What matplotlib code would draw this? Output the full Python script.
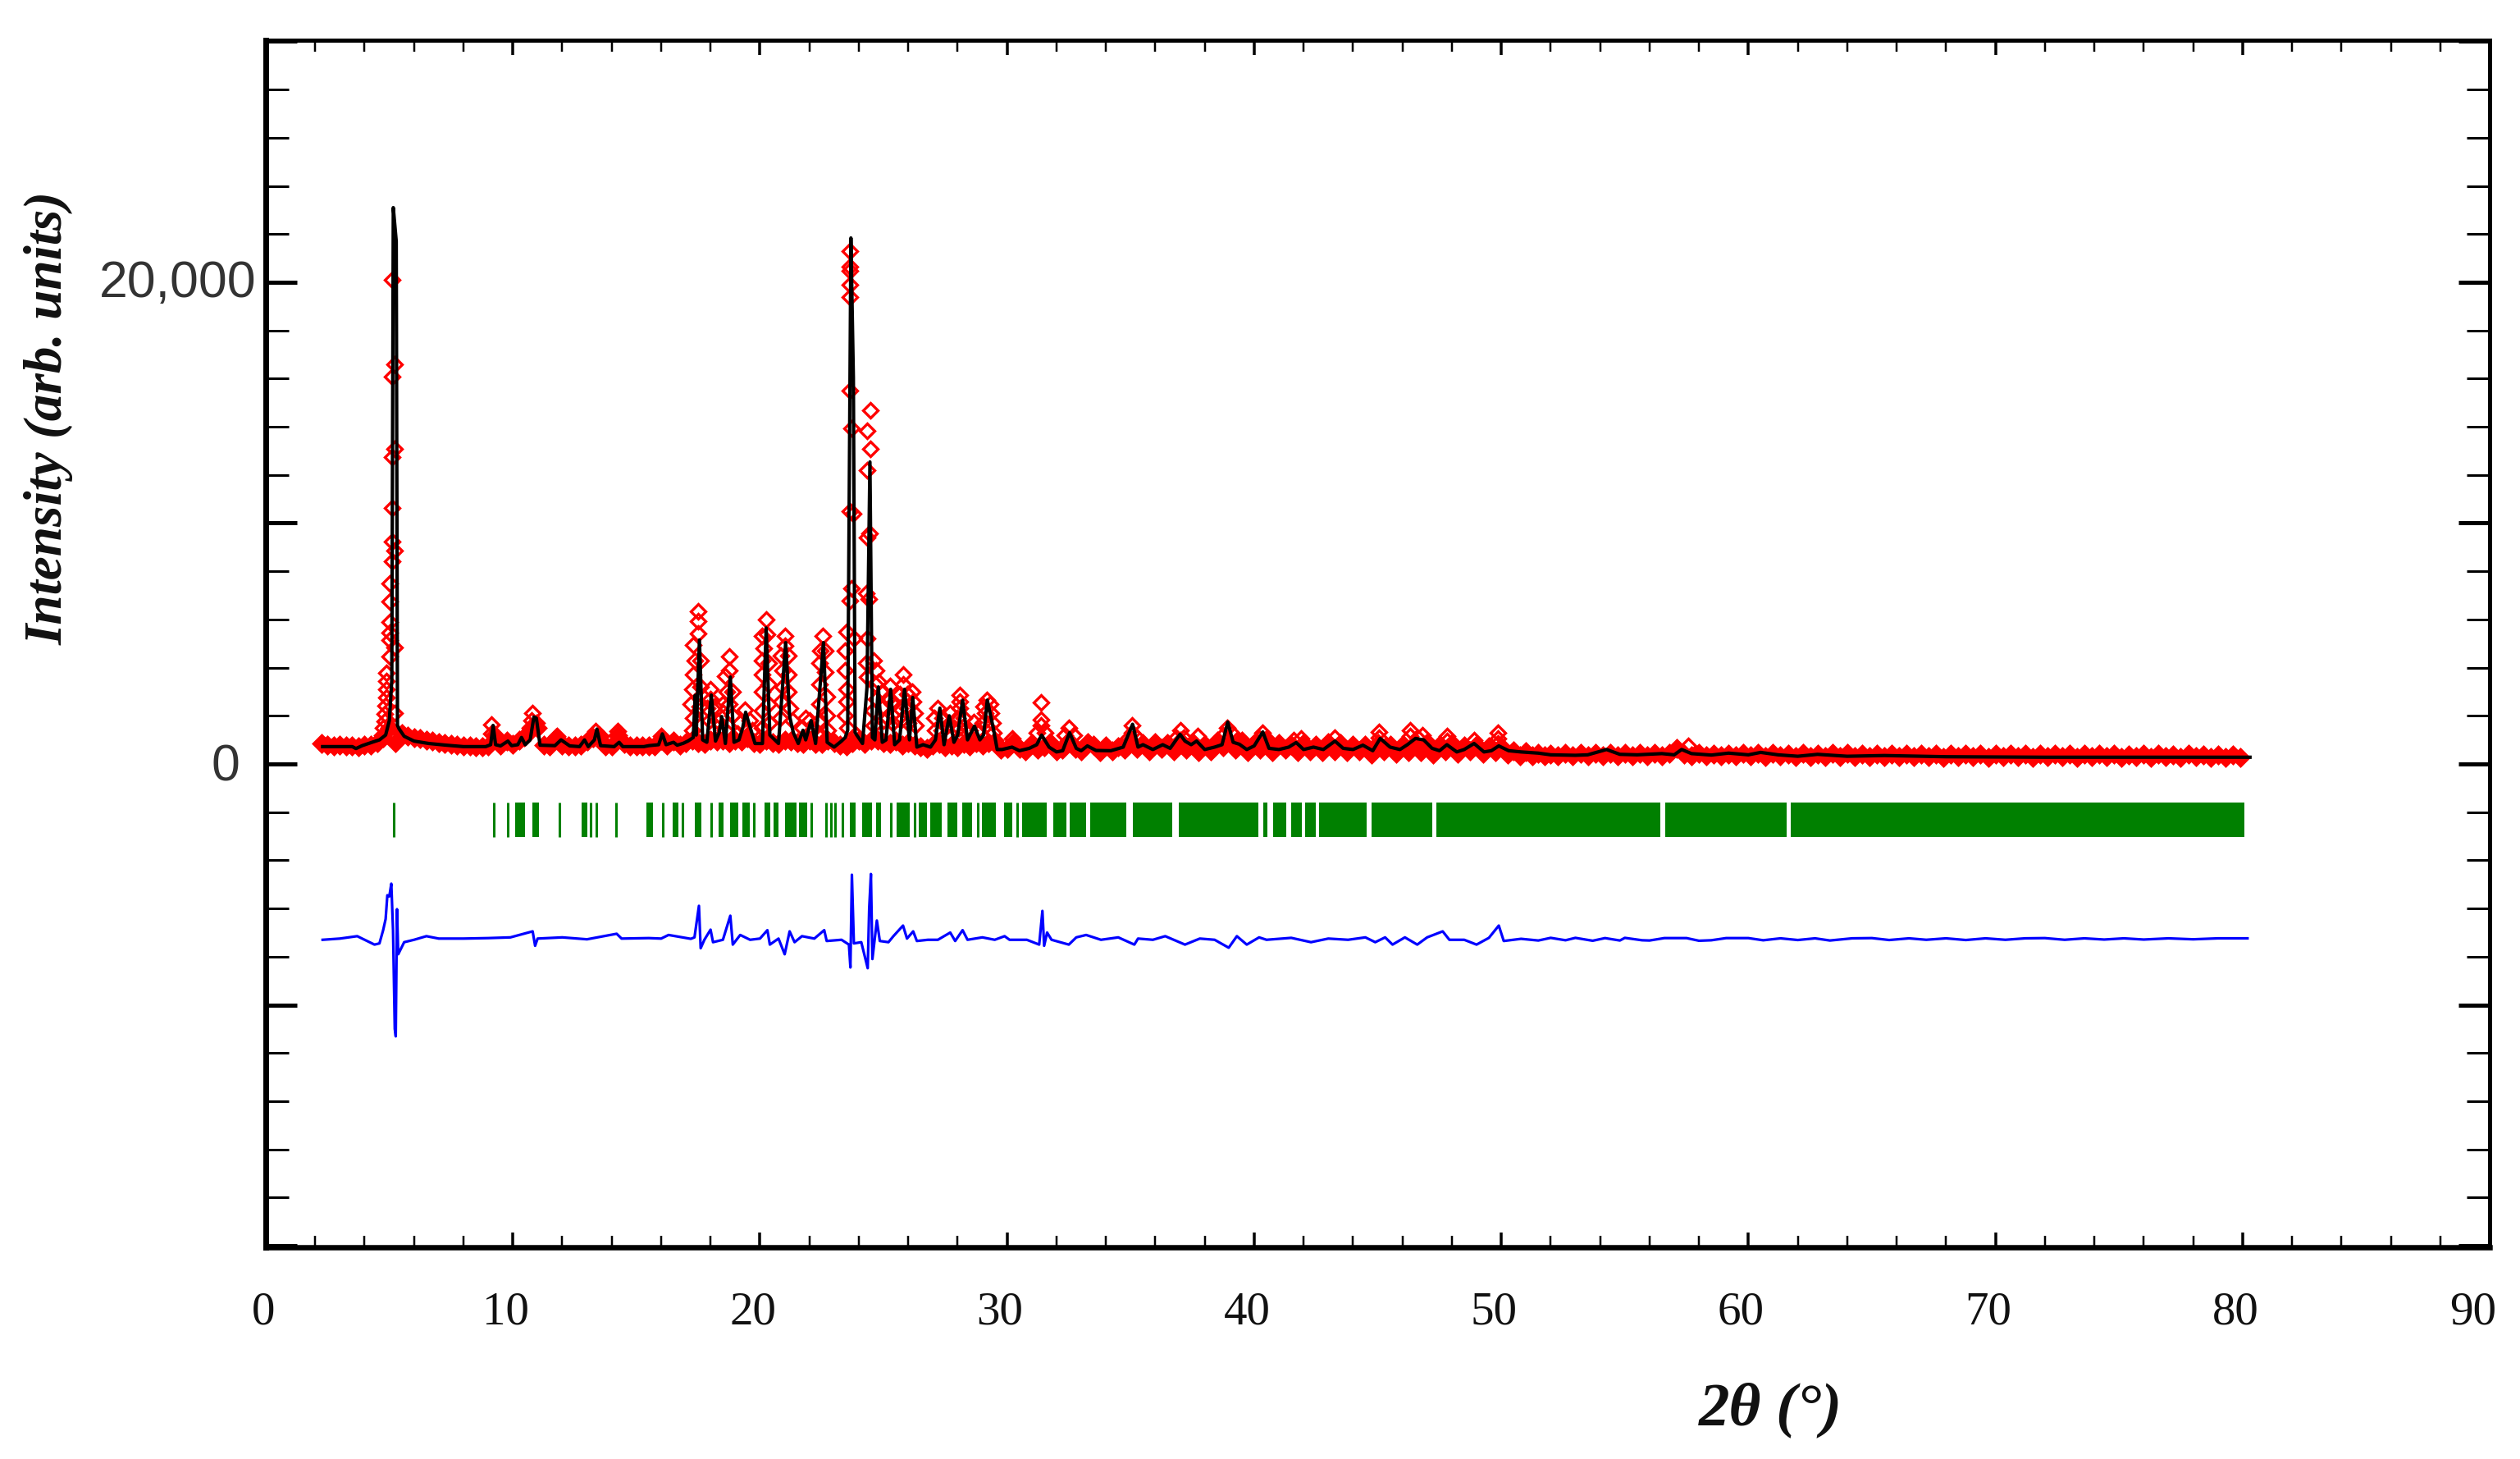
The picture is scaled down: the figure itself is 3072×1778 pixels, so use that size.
import matplotlib
matplotlib.use("Agg")
import matplotlib.pyplot as plt
from matplotlib.transforms import ScaledTranslation

# --- calculated profile (black) ---
calc_x = [2.3, 3.5, 3.65, 3.9, 4.3, 4.6, 4.85, 5.0, 5.1, 5.16,
          5.28, 5.33, 5.4, 5.6, 6.0, 6.6, 7.3, 8.0, 8.9, 9.1,
          9.2, 9.3, 9.5, 9.8, 9.95, 10.2, 10.35, 10.5, 10.7, 10.85,
          10.95, 11.1, 11.7, 11.95, 12.3, 12.7, 12.9, 13.05, 13.3, 13.4,
          13.55, 14.1, 14.3, 14.45, 15.3, 15.5, 15.9, 16.05, 16.2, 16.5,
          16.65, 16.9, 17.1, 17.3, 17.38, 17.42, 17.55, 17.68, 17.85, 18.03,
          18.2, 18.35, 18.45, 18.6, 18.8, 18.95, 19.15, 19.3, 19.42, 19.55,
          19.8, 20.1, 20.25, 20.4, 20.6, 20.75, 21.04, 21.2, 21.35, 21.55,
          21.74, 21.85, 22.07, 22.25, 22.57, 22.72, 23.0, 23.3, 23.45, 23.55,
          23.68, 23.78, 23.85, 24.15, 24.33, 24.45, 24.55, 24.65, 24.79, 24.95,
          25.1, 25.29, 25.45, 25.65, 25.85, 26.05, 26.18, 26.35, 26.6, 26.9,
          27.1, 27.28, 27.45, 27.66, 27.85, 28.0, 28.2, 28.4, 28.68, 28.9,
          29.05, 29.2, 29.44, 29.6, 29.8, 30.2, 30.5, 30.9, 31.2, 31.4,
          31.7, 32.0, 32.25, 32.53, 32.8, 33.0, 33.25, 33.6, 34.2, 34.7,
          35.08, 35.3, 35.5, 35.9, 36.3, 36.6, 37.0, 37.2, 37.45, 37.67,
          38.0, 38.4, 38.7, 38.93, 39.15, 39.4, 39.7, 40.0, 40.35, 40.6,
          41.0, 41.4, 41.7, 42.0, 42.4, 42.8, 43.27, 43.6, 44.0, 44.4,
          44.8, 45.1, 45.5, 45.9, 46.2, 46.53, 46.86, 47.2, 47.5, 47.8,
          48.2, 48.5, 48.9, 49.3, 49.6, 49.9, 50.3, 50.8, 51.5, 52.0,
          53.0, 53.5, 54.26, 54.8, 55.5, 56.5, 57.0, 57.3, 57.7, 58.5,
          59.2, 60.0, 60.5, 61.2, 62.0, 62.8, 64.0, 65.5, 68.0, 72.0,
          76.0, 80.3]
calc_y = [720, 720, 640, 760, 900, 1000, 1200, 1800, 3500, 23100,
          21700, 1600, 1450, 1150, 950, 850, 780, 720, 720, 800,
          1600, 800, 750, 950, 760, 800, 1100, 800, 1000, 1950,
          1900, 780, 760, 1000, 750, 720, 1000, 720, 1000, 1450,
          760, 720, 900, 720, 720, 760, 800, 1250, 800, 900,
          780, 860, 960, 1100, 2850, 1200, 5150, 1000, 900, 2860,
          950, 1300, 1970, 850, 3610, 900, 1000, 1500, 2150, 1700,
          850, 850, 5650, 1200, 1000, 850, 5040, 1980, 1300, 850,
          1400, 1000, 1800, 850, 5040, 900, 700, 950, 1100, 1400,
          21840, 16050, 1300, 850, 3170, 12540, 1100, 1000, 3200, 900,
          1000, 3100, 800, 1000, 3100, 1000, 2760, 700, 800, 700,
          1000, 2320, 800, 2000, 900, 1200, 2650, 1000, 1570, 1000,
          1200, 2650, 1500, 600, 600, 700, 550, 650, 800, 1200,
          700, 500, 550, 1300, 650, 550, 750, 560, 550, 700,
          1650, 700, 800, 600, 800, 650, 1230, 950, 800, 950,
          600, 700, 800, 1740, 900, 820, 600, 750, 1330, 650,
          600, 700, 890, 600, 700, 600, 950, 650, 600, 780,
          550, 1060, 700, 600, 800, 1060, 1000, 650, 550, 800,
          500, 600, 850, 500, 550, 750, 550, 500, 450, 380,
          360, 380, 600, 400, 380, 430, 380, 600, 430, 370,
          450, 380, 480, 380, 320, 400, 320, 350, 300, 280,
          280, 280]

# --- observed points along the background (red band) ---
obs_low_x = [2.25, 2.5, 2.75, 3.0, 3.25, 3.5, 3.75, 4.0, 4.25, 4.5,
             4.75, 5.0, 5.25, 5.5, 5.75, 6.0, 6.25, 6.5, 6.75, 7.0,
             7.25, 7.5, 7.75, 8.0, 8.25, 8.5, 8.75, 9.0, 9.25, 9.5,
             9.75, 10.0, 10.25, 10.5, 10.75, 11.0, 11.25, 11.5, 11.75, 12.0,
             12.25, 12.5, 12.75, 13.0, 13.25, 13.5, 13.75, 14.0, 14.25, 14.5,
             14.75, 15.0, 15.25, 15.5, 15.75, 16.0, 16.25, 16.5, 16.75, 17.0,
             17.25, 17.5, 17.75, 18.0, 18.25, 18.5, 18.75, 19.0, 19.25, 19.5,
             19.75, 20.0, 20.25, 20.5, 20.75, 21.0, 21.25, 21.5, 21.75, 22.0,
             22.25, 22.5, 22.75, 23.0, 23.25, 23.5, 23.75, 24.0, 24.25, 24.5,
             24.75, 25.0, 25.25, 25.5, 25.75, 26.0, 26.25, 26.5, 26.75, 27.0,
             27.25, 27.5, 27.75, 28.0, 28.25, 28.5, 28.75, 29.0, 29.25, 29.5,
             29.75, 30.0, 30.25, 30.5, 30.75, 31.0, 31.25, 31.5, 31.75, 32.0,
             32.25, 32.5, 32.75, 33.0, 33.25, 33.5, 33.75, 34.0, 34.25, 34.5,
             34.75, 35.0, 35.25, 35.5, 35.75, 36.0, 36.25, 36.5, 36.75, 37.0,
             37.25, 37.5, 37.75, 38.0, 38.25, 38.5, 38.75, 39.0, 39.25, 39.5,
             39.75, 40.0, 40.25, 40.5, 40.75, 41.0, 41.25, 41.5, 41.75, 42.0,
             42.25, 42.5, 42.75, 43.0, 43.25, 43.5, 43.75, 44.0, 44.25, 44.5,
             44.75, 45.0, 45.25, 45.5, 45.75, 46.0, 46.25, 46.5, 46.75, 47.0,
             47.25, 47.5, 47.75, 48.0, 48.25, 48.5, 48.75, 49.0, 49.25, 49.5,
             49.75, 50.0, 50.25, 50.5, 50.75, 51.0, 51.25, 51.5, 51.75, 52.0,
             52.3, 52.6, 52.9, 53.2, 53.5, 53.8, 54.1, 54.4, 54.7, 55.0,
             55.3, 55.6, 55.9, 56.2, 56.5, 56.8, 57.1, 57.4, 57.7, 58.0,
             58.3, 58.6, 58.9, 59.2, 59.5, 59.8, 60.1, 60.4, 60.7, 61.0,
             61.3, 61.6, 61.9, 62.2, 62.5, 62.8, 63.1, 63.4, 63.7, 64.0,
             64.3, 64.6, 64.9, 65.2, 65.5, 65.8, 66.1, 66.4, 66.7, 67.0,
             67.3, 67.6, 67.9, 68.2, 68.5, 68.8, 69.1, 69.4, 69.7, 70.0,
             70.3, 70.6, 70.9, 71.2, 71.5, 71.8, 72.1, 72.4, 72.7, 73.0,
             73.3, 73.6, 73.9, 74.2, 74.5, 74.8, 75.1, 75.4, 75.7, 76.0,
             76.3, 76.6, 76.9, 77.2, 77.5, 77.8, 78.1, 78.4, 78.7, 79.0,
             79.3, 79.6, 79.9]
obs_low_y = [840, 780, 760, 770, 760, 740, 720, 770, 800, 880,
             1100, 1500, 900, 1250, 1150, 1100, 1050, 1000, 950, 900,
             850, 820, 780, 750, 740, 730, 730, 740, 1200, 800,
             950, 820, 1000, 1150, 1450, 1500, 800, 750, 1100, 800,
             750, 750, 800, 950, 1100, 1150, 750, 760, 1200, 850,
             760, 750, 760, 750, 750, 1000, 800, 950, 800, 870,
             1000, 900, 850, 1000, 950, 1000, 900, 1000, 950, 1100,
             900, 850, 1000, 900, 850, 1000, 950, 900, 850, 1000,
             850, 850, 1000, 900, 800, 750, 900, 1000, 850, 1000,
             1000, 900, 850, 950, 800, 900, 800, 700, 650, 800,
             850, 700, 800, 700, 850, 750, 900, 800, 900, 900,
             600, 650, 900, 650, 550, 850, 600, 700, 900, 550,
             600, 950, 650, 550, 900, 800, 500, 750, 550, 700,
             600, 950, 650, 850, 550, 900, 650, 850, 550, 950,
             600, 900, 500, 800, 550, 950, 700, 900, 600, 950,
             500, 850, 600, 950, 500, 850, 600, 800, 500, 850,
             550, 800, 500, 900, 550, 850, 500, 800, 550, 800,
             400, 850, 550, 800, 450, 800, 500, 850, 500, 900,
             400, 800, 550, 850, 450, 750, 550, 800, 450, 700,
             500, 700, 400, 550, 350, 500, 350, 450, 330, 420,
             330, 430, 340, 440, 330, 430, 340, 430, 350, 440,
             330, 430, 340, 440, 330, 450, 650, 420, 330, 430,
             340, 420, 330, 420, 340, 430, 330, 430, 320, 440,
             330, 420, 310, 430, 300, 420, 320, 430, 310, 430,
             290, 420, 310, 420, 300, 420, 310, 410, 300, 420,
             300, 410, 280, 420, 300, 410, 300, 420, 280, 410,
             290, 400, 300, 410, 280, 400, 290, 400, 290, 410,
             280, 400, 290, 400, 290, 400, 280, 390, 290, 400,
             280, 400, 290, 390, 280, 400, 290, 390, 280, 390,
             280, 390, 280]

# --- observed points on the peaks ---
obs_peak_x = [5.11, 5.2, 5.11, 5.2, 5.11, 5.11, 5.11, 5.2, 5.11, 5.0,
              5.0, 5.0, 5.0, 5.0, 5.2, 5.0, 4.87, 4.87, 4.87, 4.87,
              4.85, 4.82, 4.8, 4.75, 5.2, 4.7,
              23.63, 23.63, 23.63, 23.63, 23.63, 23.63, 23.7, 24.35, 24.46, 24.46,
              24.32, 23.63, 23.78, 24.42, 24.35, 23.7, 23.63, 24.4, 24.3, 23.5,
              23.45, 23.45, 23.5, 23.5, 23.45, 23.55, 23.8, 23.9,
              24.35, 24.3, 24.35, 24.6, 24.7, 24.65, 24.7, 24.55, 24.6,
              17.49, 17.49, 17.49, 17.3, 17.35, 17.3, 17.25, 17.2, 17.3, 17.25,
              17.6, 17.6, 17.55,
              18.0, 18.0, 17.85, 18.15, 17.95, 18.25,
              18.75, 18.75, 18.6, 18.65, 18.75, 18.5, 18.45, 18.9, 18.9, 18.6,
              19.4, 19.2, 19.6, 19.7, 19.1,
              20.25, 20.1, 20.3, 20.15, 20.1, 20.35, 20.1, 20.35, 20.1, 20.35,
              20.1, 20.4, 20.1,
              21.0, 21.0, 20.85, 21.15, 20.9, 21.15, 20.9, 21.15, 20.85, 21.2,
              21.3, 20.8,
              21.85, 21.7, 22.0, 22.1,
              22.53, 22.45, 22.65, 22.4, 22.65, 22.4, 22.7, 22.4, 22.7, 22.4,
              22.75, 22.35,
              25.79, 25.79, 25.65, 25.95, 25.65, 25.95, 25.7, 26.0,
              26.15, 26.2, 26.25, 26.3,
              25.25, 25.15, 25.35, 25.15, 25.35,
              24.8, 24.95, 24.95, 25.0,
              27.2, 27.05, 27.4, 27.1, 27.35,
              27.7, 27.6, 27.85,
              28.1, 28.1, 28.1, 28.0, 28.25, 28.05, 28.3,
              28.65, 28.5, 28.8,
              29.17, 29.05, 29.3, 29.1, 29.35, 29.0, 29.4, 29.45, 29.5,
              30.2,
              31.37, 31.37, 31.37, 31.2, 31.55,
              32.5, 32.35, 32.7, 33.25,
              9.14, 9.14, 10.8, 10.75, 10.95, 10.7, 10.45, 11.8,
              13.35, 13.2, 13.5, 14.25, 16.0,
              35.05, 35.05, 34.9, 35.25,
              37.0, 36.85, 37.15, 37.7,
              38.9, 38.75, 39.1, 39.3,
              40.35, 40.2, 40.5, 41.6, 41.9, 43.25,
              45.05, 45.05, 46.3, 46.3, 46.8, 46.6,
              47.8, 47.8, 48.9,
              49.85, 49.85, 49.85, 57.55]
obs_peak_y = [20100, 16600, 16080, 13100, 12750, 10630, 9230, 8860, 8420, 7500,
              6750, 5900, 5450, 5150, 4840, 4460, 3780, 3440, 3100, 2760,
              2420, 2080, 1760, 1500, 2110, 1200,
              21300, 20650, 20480, 19900, 19400, 15500, 13950, 13830, 14680, 13080,
              12200, 10490, 10390, 9570, 9400, 7290, 6780, 6850, 7100, 5500,
              4700, 3900, 3100, 2600, 2000, 1500, 5200, 1200,
              5200, 4200, 3600, 4300, 3880, 3300, 2700, 2200, 1600,
              6340, 5940, 5420, 4950, 4300, 3700, 3100, 2500, 1900, 1400,
              4300, 3200, 2400,
              3100, 2700, 2300, 2400, 1800, 1800,
              4460, 3890, 3650, 3000, 2500, 2500, 1900, 3000, 2000, 1400,
              2250, 1700, 1800, 1400, 1250,
              6000, 5300, 5400, 4800, 4300, 4200, 3700, 3300, 3000, 2500,
              2200, 1700, 1500,
              5300, 4900, 4500, 4500, 3900, 3700, 3200, 3000, 2600, 2300,
              1800, 1900,
              1900, 1500, 1800, 1400,
              5300, 4700, 4700, 4200, 3800, 3300, 2800, 2500, 2000, 1800,
              1400, 1300,
              3720, 3300, 2900, 2900, 2300, 2300, 1800, 1700,
              3000, 2600, 2100, 1600,
              3250, 2700, 2500, 1900, 1700,
              3400, 3000, 2400, 1800,
              2300, 1900, 1900, 1400, 1400,
              2100, 1600, 1500,
              2860, 2600, 2300, 1900, 1900, 1500, 1400,
              1750, 1400, 1400,
              2650, 2400, 2500, 2100, 2100, 1700, 1700, 1300, 1000,
              1050,
              2550, 1840, 1600, 1300, 1300,
              1500, 1200, 1200, 900,
              1650, 1250, 2100, 1800, 1700, 1500, 1100, 1150,
              1350, 1100, 1050, 1350, 1150,
              1600, 1300, 1050, 1100,
              1400, 1100, 1100, 1150,
              1500, 1200, 1250, 1000,
              1300, 1050, 1050, 1000, 1050, 1100,
              1330, 1100, 1400, 1150, 1200, 1100,
              1150, 950, 1000,
              1300, 1050, 850, 750]

# --- Bragg positions (green) ---
bragg_single = [5.18, 9.22, 9.81, 11.88, 13.14, 13.38, 14.19, 16.06, 16.88, 18.02,
                19.75, 22.07, 22.67, 22.87, 23.05, 23.33, 25.29, 26.25, 28.8, 30.4]
bragg_start = [10.1, 10.8, 12.77, 15.4, 16.46, 17.37, 18.32, 18.8, 19.28, 20.18,
               20.54, 21.0, 21.57, 23.63, 24.13, 24.7, 25.52, 26.43, 26.9, 27.6,
               28.17, 28.98, 29.87, 30.6, 31.86, 32.53, 33.36, 35.08, 36.95, 40.36,
               40.76, 41.49, 42.05, 42.64, 44.74, 47.36, 56.63, 61.72]
bragg_end = [10.5, 11.05, 13.0, 15.67, 16.69, 17.62, 18.54, 19.12, 19.6, 20.41,
             20.74, 21.49, 21.9, 23.86, 24.53, 24.9, 26.05, 26.75, 27.35, 28.0,
             28.6, 29.54, 30.2, 31.62, 32.39, 33.2, 34.83, 36.69, 40.16, 40.52,
             41.29, 41.92, 42.48, 44.54, 47.2, 56.45, 61.55, 80.07]

# --- difference curve (blue) ---
diff_x = [2.3, 3.0, 3.7, 4.0, 4.4, 4.6, 4.75, 4.85, 4.92, 5.0,
          5.08, 5.15, 5.22, 5.26, 5.31, 5.36, 5.6, 6.0, 6.5, 7.0,
          8.0, 9.0, 9.9, 10.8, 10.9, 11.0, 12.0, 13.0, 14.2, 14.4,
          15.5, 16.0, 16.3, 17.2, 17.35, 17.53, 17.6, 17.75, 18.0, 18.1,
          18.5, 18.8, 18.9, 19.2, 19.6, 20.0, 20.3, 20.4, 20.75, 21.0,
          21.2, 21.4, 21.7, 22.2, 22.6, 22.7, 23.3, 23.6, 23.66, 23.72,
          23.8, 24.1, 24.36, 24.42, 24.49, 24.55, 24.73, 24.85, 25.2, 25.4,
          25.79, 25.95, 26.2, 26.35, 26.8, 27.2, 27.7, 27.9, 28.2, 28.4,
          29.0, 29.5, 29.9, 30.1, 30.8, 31.3, 31.43, 31.5, 31.62, 31.8,
          32.5, 32.8, 33.2, 33.8, 34.5, 35.15, 35.3, 35.9, 36.4, 37.2,
          37.8, 38.4, 38.97, 39.3, 39.7, 40.2, 40.5, 41.5, 42.3, 43.0,
          43.8, 44.5, 44.9, 45.3, 45.6, 46.1, 46.6, 47.0, 47.63, 47.9,
          48.5, 49.0, 49.5, 49.9, 50.1,
          50.8, 51.5, 52.0, 52.6, 53.0, 53.7, 54.2, 54.8, 55.0, 55.7,
          56.0, 56.6, 57.5, 58.0, 58.5, 59.1, 60.0, 60.6, 61.3, 62.0,
          62.7, 63.3, 64.2, 65.0, 65.7, 66.5, 67.2, 68.0, 68.8, 69.6,
          70.4, 71.2, 72.0, 72.8, 73.6, 74.4, 75.2, 76.0, 77.0, 78.0,
          79.0, 80.2]
diff_y = [-7300, -7250, -7150, -7300, -7500, -7450, -6900, -6440, -5450, -5500,
          -4970, -6900, -11000, -11310, -6030, -7900, -7400, -7300, -7150, -7250,
          -7250, -7230, -7200, -6950, -7550, -7250, -7200, -7280, -7050, -7250,
          -7230, -7250, -7100, -7260, -7200, -5890, -7650, -7300, -6880, -7400,
          -7300, -6300, -7500, -7100, -7300, -7250, -6900, -7500, -7250, -7900,
          -6950, -7400, -7150, -7250, -6900, -7350, -7300, -7500, -8450, -4600,
          -7450, -7400, -8480, -6000, -4570, -8100, -6500, -7350, -7400, -7150,
          -6710, -7250, -6950, -7350, -7300, -7300, -7000, -7350, -6900, -7300,
          -7200, -7300, -7150, -7300, -7300, -7500, -6100, -7550, -7000, -7300,
          -7500, -7200, -7100, -7300, -7200, -7500, -7250, -7300, -7150, -7500,
          -7250, -7300, -7630, -7150, -7500, -7200, -7300, -7220, -7400, -7250,
          -7300, -7200, -7400, -7200, -7500, -7200, -7500, -7200, -6950, -7300,
          -7300, -7500, -7220, -6710, -7350,
          -7260, -7330, -7220, -7320, -7220, -7340, -7230, -7330, -7220, -7320,
          -7330, -7230, -7230, -7340, -7320, -7230, -7230, -7320, -7240, -7310,
          -7240, -7330, -7240, -7230, -7310, -7240, -7300, -7240, -7310, -7240,
          -7300, -7240, -7230, -7300, -7240, -7290, -7240, -7290, -7240, -7280,
          -7240, -7240]

# axis labels and ticks
x_major = [0, 10, 20, 30, 40, 50, 60, 70, 80, 90]
x_minor = [v for v in range(0, 91, 2) if v % 10 != 0]
y_major = [-20000, -10000, 0, 10000, 20000, 30000]
y_labels = ["", "", "0", "", "20,000", ""]
y_minor = [v for v in range(-20000, 30001, 2000) if v % 10000 != 0]

W, H = 3072, 1778
fig = plt.figure(figsize=(W / 100, H / 100), dpi=100)
ax = fig.add_axes([324 / W, 1 - 1520 / H, (3035 - 324) / W, (1520 - 49) / H])
px = 0.72  # one image pixel in points

ax.vlines(bragg_single, -3030, -1600, color="#008000", lw=2.2)
ax.broken_barh([(a, b - a) for a, b in zip(bragg_start, bragg_end)], (-3030, 1430),
               color="#008000", lw=0)

# background points overlap into a solid band, the peak ones stay open
ax.plot(obs_low_x, obs_low_y, ls="none", marker="D", ms=10, mfc="#ff0000", mec="#ff0000", mew=2.5)
ax.plot(obs_peak_x, obs_peak_y, ls="none", marker="D", ms=9.5, mfc="none", mec="#ff0000", mew=2.4)
ax.plot(calc_x, calc_y, color="black", lw=3.0, solid_joinstyle="round")
ax.plot(diff_x, diff_y, color="#0000ff", lw=2.3, solid_joinstyle="round")

ax.set_xlim(0, 90)
ax.set_ylim(-20068, 30051)

ax.set_xticks(x_major)
ax.set_xticks(x_minor, minor=True)
ax.set_yticks(y_major)
ax.set_yticks(y_minor, minor=True)
ax.set_xticklabels([str(v) for v in x_major], family="Liberation Serif", fontsize=41, color="#111111")
ax.set_yticklabels(y_labels, family="Liberation Sans", fontsize=45, color="#333333")

ax.tick_params(axis="x", which="major", direction="in", top=True, length=18 * px, width=3.5 * px, pad=54 * px)
ax.tick_params(axis="x", which="minor", direction="in", top=True, length=14 * px, width=2.5 * px)
ax.tick_params(axis="y", which="major", direction="in", right=True, length=38 * px, width=5 * px, pad=12 * px)
ax.tick_params(axis="y", which="minor", direction="in", right=True, length=28 * px, width=3 * px)

ax.spines["left"].set_linewidth(7 * px)
ax.spines["bottom"].set_linewidth(6.5 * px)
ax.spines["top"].set_linewidth(5 * px)
ax.spines["right"].set_linewidth(5 * px)

# the labels in the source sit a little off their ticks
for lab in ax.get_xticklabels():
    dx = {"0": -3, "90": -20}.get(lab.get_text(), -9)
    lab.set_transform(lab.get_transform() + ScaledTranslation(dx / 100, 0, fig.dpi_scale_trans))
for lab in ax.get_yticklabels():
    dx = -20 if lab.get_text() == "0" else 0
    dy = 3 if lab.get_text() == "0" else 5
    lab.set_transform(lab.get_transform() + ScaledTranslation(dx / 100, dy / 100, fig.dpi_scale_trans))

ax.set_ylabel("Intensity (arb. units)", family="Liberation Serif", style="italic", weight="bold",
              fontsize=47, va="center", color="#111111")
ax.yaxis.set_label_coords((60 - 324) / 2711, (1520 - 509.5) / 1471)
ax.set_xlabel("2θ (°)", family="Liberation Serif", style="italic", weight="bold",
              fontsize=54, va="center", color="#111111")
ax.xaxis.set_label_coords((2158 - 324) / 2711, (1520 - 1718) / 1471)

fig.savefig("out.png", dpi=100, facecolor="white")
